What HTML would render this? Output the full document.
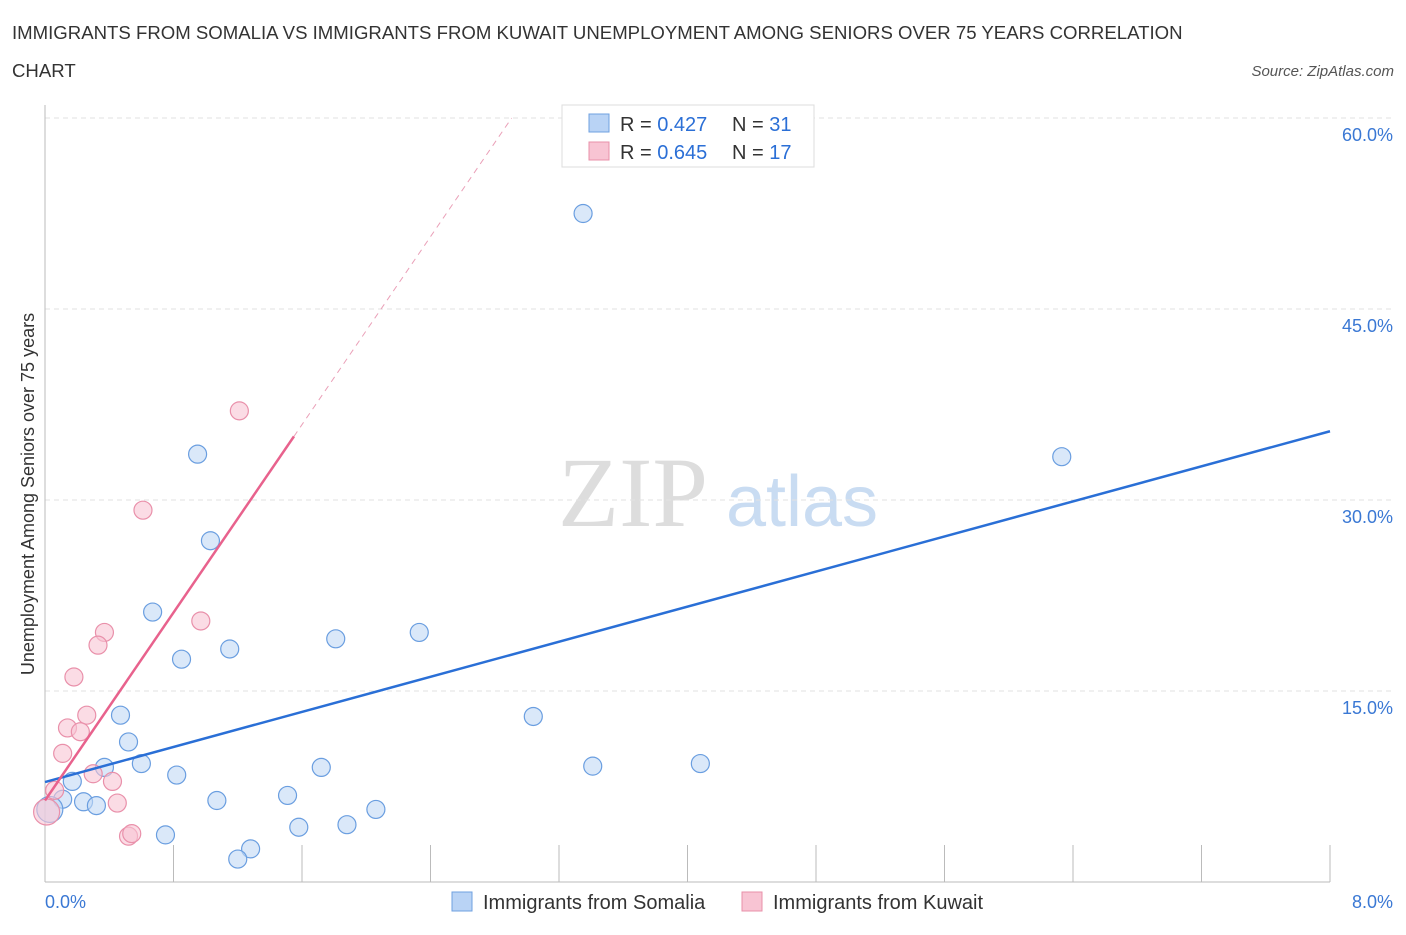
<!DOCTYPE html>
<html><head><meta charset="utf-8"><style>
body{margin:0;background:#fff;font-family:"Liberation Sans",sans-serif;}
</style></head><body>
<svg width="1406" height="930" xmlns="http://www.w3.org/2000/svg" font-family="Liberation Sans, sans-serif">
<text x="12" y="39" font-size="18.6" fill="#333">IMMIGRANTS FROM SOMALIA VS IMMIGRANTS FROM KUWAIT UNEMPLOYMENT AMONG SENIORS OVER 75 YEARS CORRELATION</text>
<text x="12" y="77" font-size="18.6" fill="#333">CHART</text>
<text x="1394" y="76" font-size="15" fill="#555" font-style="italic" text-anchor="end">Source: ZipAtlas.com</text>
<text x="633" y="526" font-size="100" fill="#ddd" style="font-family:'Liberation Serif',serif" text-anchor="middle">ZIP</text>
<text x="802" y="526" font-size="72" fill="#c9dcf2" text-anchor="middle">atlas</text>
<g id="grid"></g>
<g id="axes"></g>
<g id="marks"></g>
<text transform="translate(34,494) rotate(-90)" font-size="18" fill="#333" text-anchor="middle">Unemployment Among Seniors over 75 years</text>
<g>
<rect x="562" y="105" width="252" height="62" fill="#fff" stroke="#ddd"/>
<rect x="589" y="114" width="20" height="18" fill="#b9d3f5" stroke="#6fa0e0"/>
<text x="620" y="131" font-size="20" fill="#333">R = <tspan fill="#2b6fd6">0.427</tspan></text>
<text x="732" y="131" font-size="20" fill="#333">N = <tspan fill="#2b6fd6">31</tspan></text>
<rect x="589" y="142" width="20" height="18" fill="#f8c4d3" stroke="#e890aa"/>
<text x="620" y="159" font-size="20" fill="#333">R = <tspan fill="#2b6fd6">0.645</tspan></text>
<text x="732" y="159" font-size="20" fill="#333">N = <tspan fill="#2b6fd6">17</tspan></text>
</g>
<g>
<rect x="452" y="892" width="20" height="19" fill="#b9d3f5" stroke="#6fa0e0"/>
<text x="483" y="909" font-size="20" fill="#333">Immigrants from Somalia</text>
<rect x="742" y="892" width="20" height="19" fill="#f8c4d3" stroke="#e890aa"/>
<text x="773" y="909" font-size="20" fill="#333">Immigrants from Kuwait</text>
</g>
</svg>
<script>
const yTicks=[15,30,45,60];
const yTickLabels=["15.0%","30.0%","45.0%","60.0%"];
const xTicks=[0,0.8,1.6,2.4,3.2,4.0,4.8,5.6,6.4,7.2,8.0];
const somaliaX=[3.35,0.95,6.33,1.03,0.67,0.85,1.15,1.81,2.33,3.04,0.47,0.52,0.60,0.37,0.82,1.72,3.41,4.08,0.17,0.24,0.32,0.11,1.07,1.51,2.06,1.58,1.88,0.75,1.28,1.20,0.03];
const somaliaY=[52.5,33.6,33.4,26.8,21.2,17.5,18.3,19.1,19.6,13.0,13.1,11.0,9.3,9.0,8.4,9.0,9.1,9.3,7.9,6.3,6.0,6.5,6.4,6.8,5.7,4.3,4.5,3.7,2.6,1.8,5.7];
const kuwaitX=[1.21,0.61,0.97,0.37,0.33,0.18,0.26,0.14,0.22,0.11,0.30,0.42,0.45,0.52,0.54,0.06,0.01];
const kuwaitY=[37.0,29.2,20.5,19.6,18.6,16.1,13.1,12.1,11.8,10.1,8.5,7.9,6.2,3.6,3.8,7.2,5.5];
const somaliaTrend=[7.85,35.4];
const kuwaitTrend=[6.4,18.45];
const X=v=>45+v/8*1285, Y=v=>882-v/60*764;
const NS="http://www.w3.org/2000/svg";
function mk(p,t,a){const e=document.createElementNS(NS,t);for(const k in a)e.setAttribute(k,a[k]);p.appendChild(e);return e;}
const grid=document.getElementById('grid'),axes=document.getElementById('axes'),marks=document.getElementById('marks');
yTicks.forEach((v,i)=>{
 const l=mk(grid,'line',{x1:45,x2:1394,y1:Y(v),y2:Y(v),stroke:'#e2e2e2','stroke-dasharray':'5,4'});
 
 
 const t=mk(grid,'text',{x:1393,y:Y(v)+23,'font-size':18,fill:'#3a78d4','text-anchor':'end'});
 t.textContent=yTickLabels[i];
 
 
});
const ax=mk(axes,'line',{x1:45,x2:1330,y1:882,y2:882,stroke:'#bbb'});


const ay=mk(axes,'line',{x1:45,x2:45,y1:105,y2:882,stroke:'#bbb'});


xTicks.forEach(v=>{
 const t=mk(axes,'line',{x1:X(v),x2:X(v),y1:845,y2:882,stroke:'#bbb'});
 
 
});
const xl0=mk(axes,'text',{x:45,y:908,'font-size':18,fill:'#3a78d4'});xl0.textContent='0.0%';


const xl1=mk(axes,'text',{x:1393,y:908,'font-size':18,fill:'#3a78d4','text-anchor':'end'});xl1.textContent='8.0%';


function dot(x,y,fill,stroke,big,name){
 const c=mk(marks,'circle',{cx:X(x),cy:Y(y),r:big?13:9,fill:fill,'fill-opacity':0.6,stroke:stroke,'stroke-width':1.2});
 
 
}
somaliaX.forEach((x,i)=>dot(x,somaliaY[i],'#c2d8f5','#6a9ee0',i===somaliaX.length-1,'somalia-point'));
kuwaitX.forEach((x,i)=>dot(x,kuwaitY[i],'#f8c4d3','#e990aa',i===kuwaitX.length-1,'kuwait-point'));
const bl=mk(marks,'line',{x1:X(0),y1:Y(somaliaTrend[0]),x2:X(8),y2:Y(somaliaTrend[1]),stroke:'#2a6fd6','stroke-width':2.5});


const kx1=1.55,kx2=(60-kuwaitTrend[0])/kuwaitTrend[1];
const pl=mk(marks,'line',{x1:X(0),y1:Y(kuwaitTrend[0]),x2:X(kx1),y2:Y(kuwaitTrend[0]+kuwaitTrend[1]*kx1),stroke:'#e8628d','stroke-width':2.5});


const pd=mk(marks,'line',{x1:X(kx1),y1:Y(kuwaitTrend[0]+kuwaitTrend[1]*kx1),x2:X(kx2),y2:Y(60),stroke:'#eaa0b8','stroke-width':1,'stroke-dasharray':'6,5'});


</script>
</body></html>
